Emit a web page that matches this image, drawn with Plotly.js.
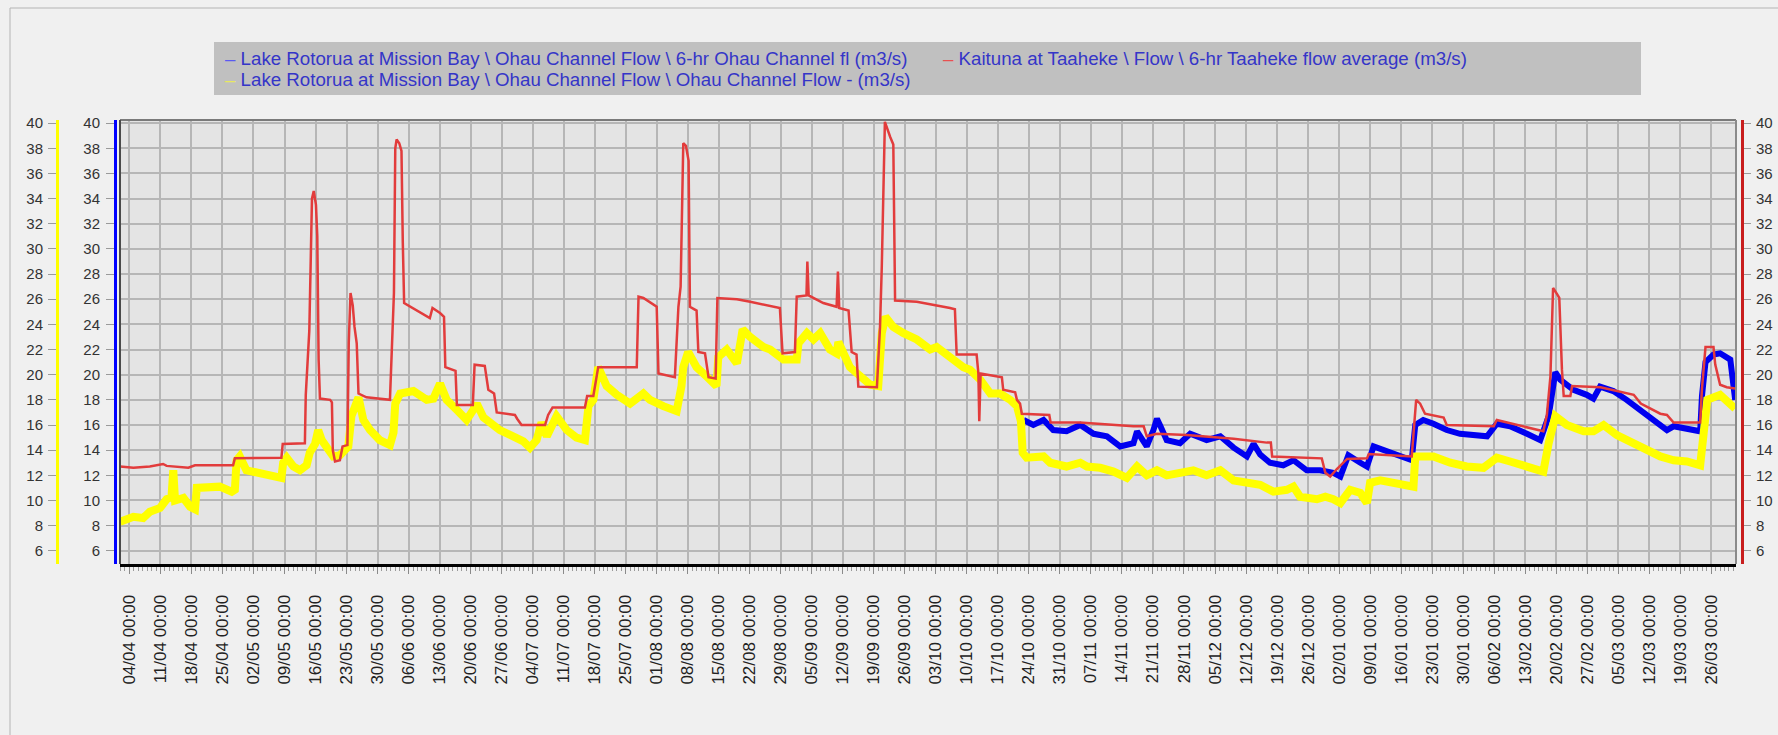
<!DOCTYPE html>
<html>
<head>
<meta charset="utf-8">
<script src="https://cdn.plot.ly/plotly-3.0.1.min.js"></script>
<style>
  html, body { margin: 0; padding: 0; background: #f0f0f0; }
  #chart { width: 1778px; height: 735px; }
</style>
</head>
<body>
<div id="chart"></div>
<script>
// ---- Data (days after 04/04 00:00, flow in m3/s) ----
const START_DATE = '2011-04-04';

const kaitunaDays = [-2.1, 0.9, 4.6, 7.6, 8.4, 13.3, 14.8, 23.4, 23.8, 34.3,
  34.6, 39.6, 39.8, 40.6, 41.2, 41.6, 42.1, 42.4, 42.7, 43.0,
  45.3, 45.7, 45.9, 46.4, 47.5, 48.1, 49.2, 49.5, 49.9, 50.4,
  50.8, 51.3, 51.7, 53.5, 58.8, 59.3, 59.7, 60.0, 60.3, 60.9,
  61.4, 61.7, 62.0, 67.8, 68.4, 70.1, 71.0, 71.3, 73.6, 73.9,
  77.5, 77.9, 80.2, 81.0, 82.3, 82.9, 87.0, 87.5, 88.5, 93.8,
  94.5, 95.5, 102.8, 103.3, 104.7, 105.8, 114.5, 114.9, 116.0, 119.0,
  119.4, 123.1, 123.9, 124.4, 125.0, 125.6, 126.2, 126.5, 128.0, 128.4,
  129.9, 130.7, 132.3, 132.7, 137.1, 140.1, 146.8, 147.4, 150.2, 150.6,
  152.8, 153.0, 153.3, 156.6, 159.6, 159.9, 160.2, 162.3, 163.0, 164.1,
  164.5, 168.7, 169.4, 169.8, 170.5, 171.7, 172.4, 172.8, 177.7, 185.2,
  186.3, 186.7, 191.2, 191.6, 191.8, 192.1, 196.9, 197.2, 199.9, 200.3,
  201.0, 201.4, 207.6, 207.9, 214.5, 226.6, 228.9, 229.6, 231.9, 238.6,
  249.2, 256.7, 257.6, 257.9, 269.1, 269.9, 271.0, 272.5, 274.8, 279.3,
  279.7, 289.4, 289.8, 290.4, 291.3, 292.4, 296.6, 297.3, 307.9, 308.6,
  319.1, 319.9, 320.7, 321.3, 322.2, 322.7, 323.3, 323.7, 325.2, 325.6,
  332.0, 339.5, 341.1, 345.5, 347.0, 348.5, 354.5, 354.9, 355.7, 357.5,
  357.9, 359.0, 360.5, 362.4];
const kaitunaFlow = [12.7, 12.6, 12.7, 12.9, 12.75, 12.6, 12.8, 12.8, 13.35, 13.4,
  14.5, 14.55, 18.4, 23.5, 34.0, 34.6, 33.5, 31.0, 21.2, 18.1,
  18.0, 17.8, 14.0, 13.1, 13.2, 14.3, 14.4, 22.5, 26.5, 25.5,
  23.8, 22.5, 18.5, 18.2, 18.0, 23.3, 26.5, 38.0, 38.7, 38.4,
  37.8, 30.5, 25.7, 24.5, 25.3, 24.9, 24.6, 20.6, 20.3, 17.6,
  17.6, 20.8, 20.7, 18.8, 18.5, 17.0, 16.8, 16.5, 16.0, 16.0,
  16.8, 17.4, 17.4, 18.3, 18.3, 20.6, 20.6, 26.2, 26.1, 25.4,
  20.1, 19.8, 25.4, 27.0, 38.4, 38.2, 37.0, 25.4, 25.1, 21.8,
  21.7, 19.8, 19.7, 26.1, 26.0, 25.8, 25.3, 21.7, 21.8, 26.2,
  26.3, 29.0, 26.3, 25.7, 25.4, 28.2, 25.3, 25.1, 21.8, 21.6,
  19.05, 19.0, 23.8, 28.6, 40.1, 38.9, 38.3, 25.9, 25.8, 25.3,
  25.2, 21.6, 21.6, 20.1, 16.3, 20.1, 19.8, 18.8, 18.6, 18.0,
  17.7, 16.9, 16.8, 16.2, 16.2, 15.9, 15.9, 15.1, 15.3, 15.2,
  14.9, 14.6, 14.6, 13.5, 13.35, 12.2, 11.9, 12.5, 13.3, 13.35,
  13.7, 13.5, 15.3, 18.0, 17.7, 16.9, 16.6, 16.0, 15.9, 16.4,
  15.5, 16.8, 19.85, 26.9, 26.4, 26.1, 20.4, 18.3, 18.3, 19.1,
  19.0, 18.4, 17.7, 16.9, 16.8, 16.2, 16.2, 18.9, 22.2, 22.2,
  20.8, 19.2, 19.0, 18.9];

const ohauDays = [-2.1, 0.9, 3.1, 4.6, 6.9, 8.4, 9.5, 9.9, 10.3, 12.2,
  13.7, 14.8, 15.2, 17.4, 20.4, 23.1, 23.8, 24.2, 24.9, 26.4,
  29.5, 32.5, 34.3, 34.7, 35.5, 37.0, 38.5, 40.0, 40.7, 41.9,
  42.6, 43.4, 44.5, 46.0, 47.5, 49.4, 50.1, 51.7, 52.8, 54.3,
  56.5, 58.8, 59.6, 60.0, 61.1, 64.1, 67.1, 68.6, 70.1, 71.6,
  73.9, 76.1, 77.6, 78.4, 79.9, 83.6, 86.6, 88.9, 90.4, 91.9,
  93.0, 94.2, 96.4, 98.7, 100.9, 102.8, 103.6, 104.7, 105.8, 107.7,
  110.0, 113.0, 116.0, 117.5, 120.5, 123.5, 124.6, 125.0, 126.1, 128.0,
  130.3, 132.5, 132.9, 134.8, 137.1, 138.4, 140.1, 143.1, 144.6, 147.6,
  150.6, 151.0, 152.9, 154.4, 155.9, 158.1, 159.6, 160.0, 162.6, 164.9,
  167.2, 169.0, 169.8, 170.6, 172.4, 174.7, 177.7, 180.7, 182.2, 185.2,
  188.2, 189.7, 192.0, 194.3, 196.5, 198.8, 200.3, 201.2, 201.6, 202.5,
  206.3, 207.8, 211.5, 214.6, 216.1, 219.1, 222.1, 225.1, 227.4, 229.6,
  231.9, 234.1, 237.9, 240.1, 243.1, 246.2, 249.2, 252.2, 255.2, 258.2,
  261.2, 262.7, 264.2, 268.0, 269.9, 271.7, 273.3, 275.5, 277.8, 279.3,
  280.0, 282.3, 285.3, 289.8, 290.2, 294.3, 298.1, 301.8, 305.6, 308.6,
  311.6, 315.4, 319.1, 320.3, 321.8, 324.4, 328.2, 330.4, 332.7, 335.7,
  339.5, 342.5, 345.5, 348.5, 351.5, 354.5, 355.3, 356.1, 359.0, 361.3,
  362.4];
const ohauFlow = [8.3, 8.7, 8.6, 9.1, 9.4, 10.1, 10.3, 12.4, 10.0, 10.2,
  9.5, 9.3, 11.0, 11.1, 11.1, 10.7, 10.85, 13.2, 13.5, 12.4,
  12.2, 11.9, 11.8, 13.0, 13.4, 12.7, 12.4, 12.8, 13.8, 14.5,
  15.6, 14.8, 14.3, 13.5, 13.6, 14.3, 16.7, 18.2, 16.4, 15.6,
  14.8, 14.4, 15.4, 17.7, 18.5, 18.7, 18.0, 18.1, 19.3, 18.0,
  17.2, 16.4, 17.2, 17.7, 16.6, 15.6, 15.1, 14.7, 14.2, 14.8,
  16.2, 15.1, 16.7, 15.6, 15.0, 14.8, 17.5, 18.0, 20.6, 19.1,
  18.4, 17.7, 18.5, 18.0, 17.5, 17.1, 19.1, 20.6, 21.8, 20.6,
  19.85, 19.1, 21.4, 22.0, 20.9, 23.6, 23.0, 22.2, 22.0, 21.2,
  21.2, 22.5, 23.3, 22.8, 23.3, 22.0, 21.7, 22.6, 20.6, 19.85,
  19.2, 19.1, 23.3, 24.6, 23.8, 23.3, 22.8, 22.0, 22.2, 21.4,
  20.6, 20.4, 19.6, 18.5, 18.5, 18.0, 17.5, 16.3, 13.8, 13.4,
  13.5, 13.0, 12.7, 13.0, 12.7, 12.6, 12.3, 11.8, 12.7, 12.0,
  12.4, 12.0, 12.2, 12.4, 12.0, 12.4, 11.6, 11.4, 11.25, 10.7,
  10.85, 11.1, 10.3, 10.1, 10.3, 10.1, 9.8, 10.85, 10.6, 9.8,
  11.4, 11.6, 11.4, 11.1, 13.5, 13.5, 13.0, 12.7, 12.6, 13.4,
  13.1, 12.7, 12.3, 14.55, 16.7, 16.0, 15.5, 15.5, 16.0, 15.2,
  14.55, 13.9, 13.5, 13.2, 13.1, 12.8, 15.9, 18.0, 18.4, 17.6,
  17.3];

const ohau6hrDays = [201.8, 204.0, 206.3, 208.5, 211.5, 214.6, 217.6, 220.6, 223.6, 226.6,
  227.4, 229.6, 231.1, 231.9, 232.7, 234.1, 237.1, 239.4, 243.1, 246.2,
  249.2, 252.2, 253.7, 255.2, 257.4, 260.4, 262.7, 265.7, 268.7, 270.6,
  271.7, 273.3, 275.1, 277.8, 279.3, 280.8, 283.8, 286.8, 289.4, 290.2,
  292.0, 294.3, 297.3, 300.3, 303.4, 306.4, 308.6, 311.6, 315.4, 318.4,
  320.3, 321.4, 321.8, 322.9, 325.9, 328.9, 330.4, 331.9, 334.9, 337.9,
  341.0, 344.0, 347.0, 348.5, 351.5, 354.5, 354.9, 355.7, 357.5, 359.0,
  361.3, 362.1, 362.4];
const ohau6hrFlow = [16.4, 16.0, 16.4, 15.6, 15.5, 16.0, 15.3, 15.1, 14.3, 14.55,
  15.5, 14.3, 15.6, 16.5, 15.9, 14.8, 14.55, 15.3, 14.8, 15.1,
  14.2, 13.5, 14.5, 13.65, 13.0, 12.8, 13.2, 12.4, 12.4, 12.3,
  12.2, 11.9, 13.6, 13.0, 12.7, 14.3, 13.9, 13.5, 13.2, 16.0,
  16.4, 16.1, 15.6, 15.3, 15.2, 15.1, 16.1, 15.9, 15.3, 14.8,
  16.7, 19.85, 20.2, 19.6, 18.8, 18.4, 18.1, 19.05, 18.7, 18.0,
  17.2, 16.4, 15.6, 15.9, 15.7, 15.5, 18.3, 21.0, 21.6, 21.7,
  21.2, 19.0, 18.0];

const seriesNames = [
  'Lake Rotorua at Mission Bay \\ Ohau Channel Flow \\ 6-hr Ohau Channel fl (m3/s)',
  'Kaituna at Taaheke \\ Flow \\ 6-hr Taaheke flow average (m3/s)',
  'Lake Rotorua at Mission Bay \\ Ohau Channel Flow \\ Ohau Channel Flow - (m3/s)'
];
const yTickValues = [6, 8, 10, 12, 14, 16, 18, 20, 22, 24, 26, 28, 30, 32, 34, 36, 38, 40];

// ---- helpers ----
const DAY_MS = 86400000;
const baseMs = Date.parse(START_DATE + 'T00:00:00Z');
function toDate(d) {
  return new Date(baseMs + d * DAY_MS).toISOString().slice(0, 19).replace('T', ' ');
}

const W = 1778, H = 735;
const plotL = 120, plotR = 1736, plotT = 120, plotB = 564;
const yRange = [4.95, 40.25];
const FONT = 'Liberation Sans, Arial, sans-serif';

const COL_BLUE = '#0000f0', COL_RED = '#e23c3c', COL_YELLOW = '#ffff00';

const traces = [
  {
    name: seriesNames[1],
    x: kaitunaDays.map(toDate), y: kaitunaFlow,
    yaxis: 'y3', type: 'scatter', mode: 'lines',
    line: { color: COL_RED, width: 2.5 }
  },
  {
    name: seriesNames[2],
    x: ohauDays.map(toDate), y: ohauFlow,
    yaxis: 'y2', type: 'scatter', mode: 'lines',
    line: { color: COL_YELLOW, width: 8 }
  },
  {
    name: seriesNames[0],
    x: ohau6hrDays.map(toDate), y: ohau6hrFlow,
    yaxis: 'y', type: 'scatter', mode: 'lines',
    line: { color: COL_BLUE, width: 6 }
  }
];

const commonY = {
  range: yRange, tickmode: 'array', tickvals: yTickValues,
  ticks: 'outside', ticklen: 8, tickwidth: 1, tickcolor: '#9a9a9a',
  showline: true, linewidth: 3, zeroline: false,
  domain: [1 - plotB / H, 1 - plotT / H],
  anchor: 'free', fixedrange: true
};

// legend drawn as text entries inside a grey box, as in the original software
const legendFont = { family: FONT, size: 18.7, color: '#3535c8' };
const legendEntries = [
  { text: seriesNames[0], dash: '#5a5af0', x: 223, y: 58 },
  { text: seriesNames[1], dash: '#e85050', x: 941, y: 58 },
  { text: seriesNames[2], dash: '#e8e860', x: 223, y: 79 }
];

const layout = {
  width: W, height: H,
  margin: { l: 0, r: 0, t: 0, b: 0, pad: 0 },
  paper_bgcolor: '#f0f0f0',
  plot_bgcolor: '#e4e4e4',
  font: { family: FONT, color: '#333333' },
  showlegend: false,
  xaxis: {
    type: 'date',
    domain: [plotL / W, plotR / W],
    anchor: 'y',
    range: ['2011-04-01 21:00', '2012-03-31 14:00'],
    tick0: START_DATE, dtick: 7 * DAY_MS,
    tickformat: '%d/%m %H:%M',
    tickangle: -90,
    ticks: 'outside', ticklen: 7, tickcolor: '#8a8a8a',
    ticklabelstandoff: 14,
    tickfont: { family: FONT, size: 17, color: '#222222' },
    showgrid: true, gridcolor: '#b6b6b6', gridwidth: 2,
    showline: true, linecolor: '#000000', linewidth: 3,
    zeroline: false,
    minor: { dtick: DAY_MS, ticks: 'outside', ticklen: 4, tickcolor: '#9a9a9a', showgrid: false }
  },
  yaxis: Object.assign({}, commonY, {
    position: 115 / W, side: 'left',
    linecolor: '#0000ff',
    showgrid: true, gridcolor: '#b6b6b6', gridwidth: 2,
    ticklabelstandoff: 3,
    tickfont: { family: FONT, size: 15, color: '#333333' }
  }),
  yaxis2: Object.assign({}, commonY, {
    overlaying: 'y',
    position: 57 / W, side: 'left',
    linecolor: '#ffff00', showgrid: false,
    ticklabelstandoff: 2,
    tickfont: { family: FONT, size: 15, color: '#333333' }
  }),
  yaxis3: Object.assign({}, commonY, {
    overlaying: 'y',
    position: 1742 / W, side: 'right',
    linecolor: '#c81e1e', showgrid: false,
    ticklen: 7,
    ticklabelstandoff: 2,
    tickfont: { family: FONT, size: 15, color: '#333333' }
  }),
  annotations: legendEntries.map(e => ({
    xref: 'paper', yref: 'paper',
    x: e.x / W, y: 1 - e.y / H,
    xanchor: 'left', yanchor: 'middle',
    showarrow: false,
    text: '<span style="color:' + e.dash + '">\u2013</span> ' + e.text,
    font: legendFont
  })),
  shapes: [
    // legend box
    { type: 'rect', xref: 'paper', yref: 'paper', layer: 'below',
      x0: 214 / W, x1: 1641 / W, y0: 1 - 95 / H, y1: 1 - 42 / H,
      fillcolor: '#c0c0c0', line: { width: 0 } },
    // outer frame (top and left)
    { type: 'line', xref: 'paper', yref: 'paper', x0: 10 / W, x1: 1, y0: 1 - 8 / H, y1: 1 - 8 / H,
      line: { color: '#b4b4b4', width: 1 } },
    { type: 'line', xref: 'paper', yref: 'paper', x0: 10 / W, x1: 10 / W, y0: 0, y1: 1 - 8 / H,
      line: { color: '#b4b4b4', width: 1 } },
    // plot frame: top, right (grey) and left (dark)
    { type: 'line', xref: 'x domain', yref: 'y domain', x0: 0, x1: 1, y0: 1, y1: 1,
      line: { color: '#7a7a7a', width: 2 } },
    { type: 'line', xref: 'x domain', yref: 'y domain', x0: 1, x1: 1, y0: 0, y1: 1,
      line: { color: '#8a8a8a', width: 2 } },
    { type: 'line', xref: 'x domain', yref: 'y domain', x0: 0, x1: 0, y0: 0, y1: 1,
      line: { color: '#4a4a4a', width: 2 } }
  ]
};

Plotly.newPlot('chart', traces, layout, { displayModeBar: false, staticPlot: true });
</script>
</body>
</html>
